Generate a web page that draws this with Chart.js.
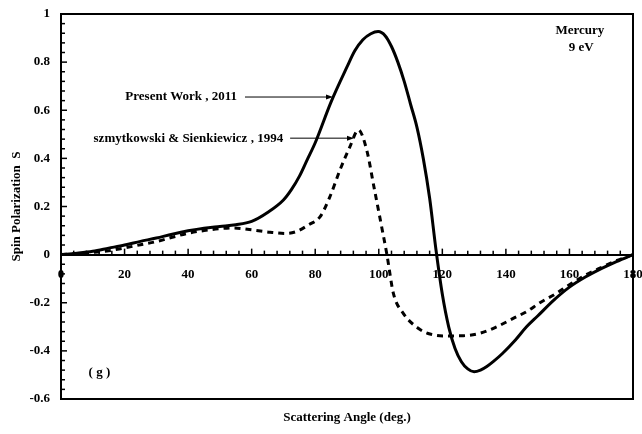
<!DOCTYPE html>
<html>
<head>
<meta charset="utf-8">
<script src="https://cdn.jsdelivr.net/npm/chart.js@4.4.1/dist/chart.umd.min.js"></script>
<style>
  body { margin: 0; background: #fff; }
  canvas { display: block; }
</style>
</head>
<body>
<canvas id="spinChart" width="642" height="434"></canvas>
<script>
// Spin polarization S for electrons on mercury at 9 eV
const presentAngles = [0, 5, 10, 15, 20, 25, 30, 35, 40, 45, 50, 55, 60, 65, 70, 72.5, 75, 77.5, 80, 85,
    90, 92.5, 95, 97.5, 99.8, 102, 104, 106, 108, 110, 112, 114, 116, 118, 120, 122, 124, 126, 128, 130, 132,
    134, 136, 139, 143, 146.5, 150, 155, 160, 165, 170, 175, 180];
const presentWork = [0, 0.006, 0.014, 0.027, 0.04, 0.055, 0.069, 0.085, 0.099, 0.11, 0.117, 0.124, 0.138,
    0.175, 0.227, 0.27, 0.325, 0.395, 0.465, 0.635, 0.78, 0.848, 0.893, 0.918, 0.927, 0.91, 0.865, 0.8, 0.72,
    0.625, 0.53, 0.40, 0.235, 0.02, -0.165, -0.30, -0.39, -0.445, -0.475, -0.487, -0.48, -0.465, -0.445,
    -0.41, -0.355, -0.30, -0.255, -0.19, -0.135, -0.093, -0.058, -0.028, 0];

const szAngles = [0, 5, 10, 15, 20, 25, 30, 35, 40, 45, 50, 54, 60.5, 65.8, 71, 74.3, 77.8, 81.5, 84.6,
    87.8, 90.9, 93.6, 96.2, 98.5, 100.9, 102.5, 104.6, 107.7, 112.4, 116.1, 121.4, 126.6, 131.8, 137.1,
    142.3, 146.5, 150.7, 155.4, 160, 165, 170.6, 175, 180];
const szmytkowski = [0, 0.004, 0.009, 0.016, 0.028, 0.041, 0.054, 0.072, 0.089, 0.1, 0.108, 0.111, 0.102,
    0.093, 0.088, 0.097, 0.123, 0.157, 0.24, 0.352, 0.448, 0.518, 0.435, 0.28, 0.116, 0.005, -0.161,
    -0.244, -0.306, -0.33, -0.338, -0.337, -0.327, -0.3, -0.265, -0.237, -0.2, -0.165, -0.125, -0.085,
    -0.05, -0.024, 0];

const xTicks = [0, 20, 40, 60, 80, 100, 120, 140, 160, 180];
const yTicks = [-0.6, -0.4, -0.2, 0, 0.2, 0.4, 0.6, 0.8, 1];

const toPoints = (xs, ys) => xs.map((x, i) => ({x: x, y: ys[i]}));

const serif = '"Liberation Serif", "Times New Roman", serif';
const boldFont = {family: serif, size: 13, weight: 'bold'};

// no extra room for labels hanging past the plot edges
function noEdgePadding(scale) {
    scale.paddingLeft = 0;
    scale.paddingRight = 0;
    scale.paddingTop = 0;
    scale.paddingBottom = 0;
}

// box around the plot plus the small ticks along y = 0 and the left axis
const frame = {
    id: 'frame',
    afterDraw(chart) {
        const {ctx, chartArea: a, scales: {x, y}} = chart;
        ctx.save();
        ctx.strokeStyle = '#000';
        ctx.lineWidth = 2;
        ctx.strokeRect(a.left, a.top, a.right - a.left, a.bottom - a.top);

        ctx.lineWidth = 1.5;
        const y0 = y.getPixelForValue(0);
        for (let v = 4; v < 180; v += 4) {
            const px = x.getPixelForValue(v);
            const len = v % 20 === 0 ? 6 : 4;
            ctx.beginPath();
            ctx.moveTo(px, y0);
            ctx.lineTo(px, y0 - len);
            ctx.stroke();
        }
        for (let i = 1; i < 40; i++) {
            const py = y.getPixelForValue(-0.6 + i * 0.04);
            const len = i % 5 === 0 ? 6 : 4;
            ctx.beginPath();
            ctx.moveTo(a.left, py);
            ctx.lineTo(a.left + len, py);
            ctx.stroke();
        }
        ctx.restore();
    }
};

function arrow(ctx, x1, x2, y) {
    ctx.beginPath();
    ctx.moveTo(x1, y);
    ctx.lineTo(x2 - 6, y);
    ctx.stroke();
    ctx.beginPath();
    ctx.moveTo(x2, y);
    ctx.lineTo(x2 - 7, y - 2.5);
    ctx.lineTo(x2 - 7, y + 2.5);
    ctx.closePath();
    ctx.fill();
}

// curve labels, arrows and the panel notes
const notes = {
    id: 'notes',
    afterDraw(chart) {
        const {ctx, scales: {x, y}} = chart;
        ctx.save();
        ctx.fillStyle = '#000';
        ctx.strokeStyle = '#000';
        ctx.lineWidth = 1;
        ctx.font = 'bold 13px ' + serif;
        ctx.textBaseline = 'middle';

        ctx.textAlign = 'right';
        ctx.fillText('Present Work , 2011', x.getPixelForValue(55.4), y.getPixelForValue(0.655));
        arrow(ctx, x.getPixelForValue(57.9), x.getPixelForValue(85.6), y.getPixelForValue(0.655));
        ctx.fillText('szmytkowski & Sienkiewicz , 1994', x.getPixelForValue(69.9), y.getPixelForValue(0.484));
        arrow(ctx, x.getPixelForValue(72.1), x.getPixelForValue(92.2), y.getPixelForValue(0.484));

        ctx.textAlign = 'center';
        ctx.fillText('Mercury', x.getPixelForValue(163.3), y.getPixelForValue(0.929));
        ctx.fillText('9 eV', x.getPixelForValue(163.7), y.getPixelForValue(0.859));
        ctx.fillText('( g )', x.getPixelForValue(12.1), y.getPixelForValue(-0.492));
        ctx.restore();
    }
};

new Chart(document.getElementById('spinChart').getContext('2d'), {
    type: 'line',
    data: {
        datasets: [{
            label: 'Present Work , 2011',
            data: toPoints(presentAngles, presentWork),
            borderColor: '#000',
            borderWidth: 3,
            pointRadius: 0,
            cubicInterpolationMode: 'monotone',
            fill: false
        }, {
            label: 'szmytkowski & Sienkiewicz , 1994',
            data: toPoints(szAngles, szmytkowski),
            borderColor: '#000',
            borderWidth: 3,
            borderDash: [6, 5],
            pointRadius: 0,
            cubicInterpolationMode: 'monotone',
            fill: false
        }]
    },
    options: {
        responsive: false,
        animation: false,
        layout: {
            autoPadding: false,
            padding: {top: 14, right: 9, left: 0, bottom: 0}
        },
        plugins: {
            legend: {display: false},
            tooltip: {enabled: false}
        },
        scales: {
            x: {
                type: 'linear',
                position: 'bottom',
                min: 0,
                max: 180,
                grid: {display: false},
                border: {display: true, color: '#000', width: 2},
                ticks: {display: false},
                title: {
                    display: true,
                    text: 'Scattering Angle (deg.)',
                    color: '#000',
                    font: boldFont,
                    padding: {top: 0, bottom: 9}
                },
                afterFit(scale) {
                    scale.height = 35;
                    noEdgePadding(scale);
                }
            },
            // tick labels sit on the zero line
            x0: {
                type: 'linear',
                axis: 'x',
                position: {y: 0},
                min: 0,
                max: 180,
                grid: {display: false, drawTicks: false},
                border: {display: true, color: '#000', width: 2},
                afterBuildTicks(scale) { scale.ticks = xTicks.map(v => ({value: v})); },
                ticks: {
                    color: '#000',
                    font: boldFont,
                    padding: 12,
                    maxRotation: 0,
                    autoSkip: false
                },
                afterFit: noEdgePadding
            },
            y: {
                type: 'linear',
                min: -0.6,
                max: 1,
                grid: {display: false, drawTicks: false},
                border: {display: true, color: '#000', width: 2},
                afterBuildTicks(scale) { scale.ticks = yTicks.map(v => ({value: v})); },
                ticks: {
                    color: '#000',
                    font: boldFont,
                    padding: 11,
                    callback: v => String(Number(v.toFixed(1)))
                },
                title: {
                    display: true,
                    text: 'Spin Polarization  S',
                    color: '#000',
                    font: boldFont,
                    padding: {top: 9, bottom: 0}
                },
                afterFit(scale) {
                    scale.width = 61;
                    noEdgePadding(scale);
                }
            }
        }
    },
    plugins: [frame, notes]
});
</script>
</body>
</html>
